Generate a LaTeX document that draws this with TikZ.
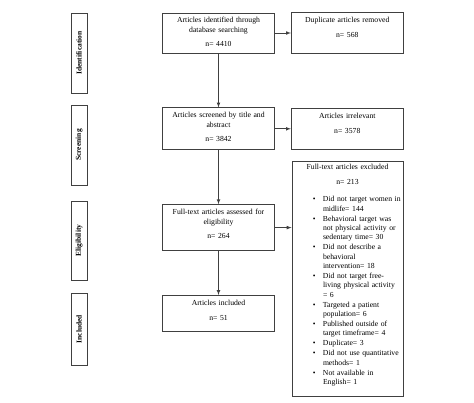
\documentclass[tikz,border=0pt]{standalone}
\usepackage{fontspec}
\setmainfont{Liberation Serif}
\usepackage{tikz}
\usetikzlibrary{arrows,shapes,positioning}

% one excluded reason, bullet hung in the margin
\newcommand{\exitem}[1]{\par\leftskip=31pt\noindent\llap{\textbullet\hspace{7.5pt}}#1\par}

\begin{document}
\begin{tikzpicture}[
        x=1pt, y=-1pt,
        font=\fontsize{7.7}{9.6}\selectfont,
        block/.style={rectangle, draw=black!75, line width=0.8pt,
                      text width=106pt, align=center, inner xsep=3pt, inner ysep=0pt,
                      text height=9.8pt},
        stage/.style={rectangle, draw=black!75, line width=0.8pt, rotate=90,
                      minimum height=16pt, inner sep=0pt,
                      font=\fontsize{7.5}{9}\selectfont\bfseries},
        line/.style={draw=black!75, line width=0.7pt, -latex}
    ]
    \useasboundingbox (0,0) rectangle (474,402);

    \node [block, text depth=30.2pt] at (218.5,33) (ident) {Articles identified through\\database searching\\[4.4pt]n= 4410};
    \node [block, text depth=32.2pt, below=54pt of ident] (screen) {Articles screened by title and\\abstract\\[4.9pt]n= 3842};
    \node [block, text depth=36.2pt, below=54pt of screen] (elig) {Full-text articles assessed for\\eligibility\\[4.9pt]n= 264};
    \node [block, text depth=26.2pt, below=44pt of elig] (incl) {Articles included\\[5.4pt]n= 51};

    \node [block, text depth=31.2pt, right=16pt of ident] (dup) {Duplicate articles removed\\[5.4pt]n= 568};
    \node [block, text depth=31.2pt, right=16pt of screen] (irrel) {Articles irrelevant\\[5.4pt]n= 3578};
    \node [block, text width=111pt, inner xsep=0pt, align=left, text height=8.75pt, text depth=226.25pt]
        at (347.5,278.5) (excl) {\fontsize{7.7}{9.33}\selectfont
        {\centering Full-text articles excluded\\[5.7pt]n= 213\par}
        \vspace{7.7pt}
        \exitem{Did not target women in\\midlife= 144}\vspace{0.7pt}
        \exitem{Behavioral target was\\not physical activity or\\sedentary time= 30}\vspace{0.7pt}
        \exitem{Did not describe a\\behavioral\\intervention= 18}\vspace{0.7pt}
        \exitem{Did not target free-\\living physical activity\\= 6}\vspace{0.7pt}
        \exitem{Targeted a patient\\population= 6}\vspace{0.7pt}
        \exitem{Published outside of\\target timeframe= 4}\vspace{0.7pt}
        \exitem{Duplicate= 3}\vspace{0.7pt}
        \exitem{Did not use quantitative\\methods= 1}\vspace{0.7pt}
        \exitem{Not available in\\English= 1}};

    \draw [line] (ident) -- (screen);
    \draw [line] (screen) -- (elig);
    \draw [line] (elig) -- (incl);
    \draw [line] (ident.east) -- (ident.east -| dup.west);
    \draw [line] (screen.east) -- (screen.east -| irrel.west);
    \draw [line] (elig.east) -- (elig.east -| excl.west);

    % Stages
    \node [stage, minimum width=80pt] at (79,53) (sident) {Identification};
    \node [stage, minimum width=80pt] at (79,145) (sscreen) {Screening};
    \node [stage, minimum width=79pt] at (79,240.5) (selig) {Eligibility};
    \node [stage, minimum width=72pt] at (79,329) (sincl) {Included};
\end{tikzpicture}
\end{document}
